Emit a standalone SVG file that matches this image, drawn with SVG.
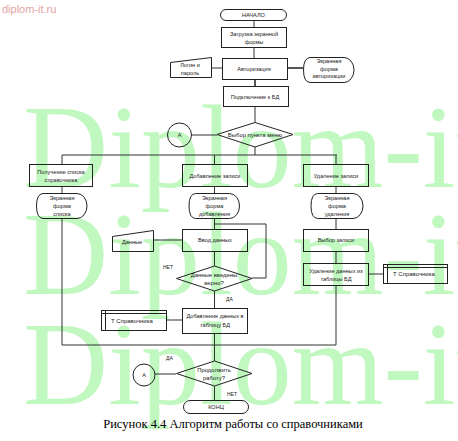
<svg xmlns="http://www.w3.org/2000/svg" width="458" height="441" viewBox="0 0 458 441">
<style>
.wm{font-family:"Liberation Serif",serif;font-size:118px;fill:#c0f8c0}
.site{font-family:"Liberation Sans",Arial,sans-serif;font-size:11px;fill:#e3a3a3}
.s{fill:none;stroke:#222;stroke-width:1}
.c{fill:none;stroke:#333;stroke-width:1}
.ct{fill:none;stroke:#555;stroke-width:2}
.t{font-family:"Liberation Sans",Arial,sans-serif;font-size:5.6px;fill:#222;text-anchor:middle}
.d{font-family:"Liberation Sans",Arial,sans-serif;font-size:5.9px;fill:#222;text-anchor:middle}
.l{font-family:"Liberation Sans",Arial,sans-serif;font-size:5px;fill:#222}
.cap{font-family:"Liberation Serif","Times New Roman",serif;font-size:12.5px;fill:#000;text-anchor:middle}
</style>
<rect width="458" height="441" fill="#fff"/>
<g id="watermark">
<text class="wm" x="23" y="187">Diplom-it</text>
<text class="wm" x="23" y="294">Diplom-it</text>
<text class="wm" x="23" y="404">Diplom-it</text>
</g>
<text class="site" x="2" y="13">diplom-it.ru</text>
<g id="connectors">
<path class="c" d="M254 20V27M254 47V58M211 68H222M255 106V122M191 135H217M255 147V155M62 155H337M62 155V164M214.5 155V164M336 155V164M62 186V193M214.5 186V193M336 186V193M62 218V345H336M214.5 218V229M214.5 224H266V278H252M153 240H182M214.5 251V266M214.5 291V308M166 320H182M214.5 333V361M336 218V229M336 251V263M336 285V345M368 274H383M155 374H176M214.5 386V400"/>
<path class="ct" d="M287 68H303M255 79V86"/>
</g>
<g id="start"><rect class="s" x="220.5" y="9.5" width="66" height="11" rx="5.5"/><text class="t" x="253.5" y="17">НАЧАЛО</text></g>
<g id="load"><rect class="s" x="221.5" y="27.5" width="65" height="20"/><text class="t" x="254" y="36">Загрузка экранной</text><text class="t" x="254" y="44">формы</text></g>
<g id="login"><path class="s" d="M170.5 62.5L211.5 57.5V77.5H170.5Z"/><text class="t" x="190" y="67">Логин и</text><text class="t" x="190" y="75">пароль</text></g>
<g id="auth"><rect class="s" x="222.5" y="58.5" width="65" height="21"/><text class="t" x="254" y="71">Авторизация</text></g>
<g id="authform"><path class="s" d="M310 57.5H344A10 12.5 0 0 1 344 82.5H310Q303.5 82 303.5 70Q303.5 58 310 57.5Z"/><text class="t" x="329" y="63">Экранная</text><text class="t" x="329" y="70.5">форма</text><text class="t" x="329" y="78">авторизации</text></g>
<g id="connect"><rect class="s" x="223.5" y="86.5" width="65" height="20"/><text class="t" x="255" y="98.5">Подключение к БД</text></g>
<g id="menu"><path class="s" d="M255 122.5L293 134.5L255 147L217 134.5Z"/><text class="d" x="255" y="137">Выбор пункта меню</text></g>
<g id="a1"><circle class="s" cx="179.5" cy="135" r="12"/><text class="t" x="179.5" y="137">А</text></g>
<g id="getlist"><rect class="s" x="29.5" y="164.5" width="63" height="22"/><text class="t" x="61" y="174">Получение списка</text><text class="t" x="61" y="182">справочника</text></g>
<g id="add"><rect class="s" x="182.5" y="164.5" width="65" height="22"/><text class="t" x="215" y="177.5">Добавление записи</text></g>
<g id="del"><rect class="s" x="303.5" y="164.5" width="65" height="22"/><text class="t" x="336" y="177.5">Удаление записи</text></g>
<g id="listform"><path class="s" d="M43 193.5H77A10 12.5 0 0 1 77 218.5H43Q36.5 218 36.5 206Q36.5 194 43 193.5Z"/><text class="t" x="62" y="200">Экранная</text><text class="t" x="62" y="208">форма</text><text class="t" x="62" y="216">списка</text></g>
<g id="addform"><path class="s" d="M195.5 193.5H229.5A10 12.5 0 0 1 229.5 218.5H195.5Q189 218 189 206Q189 194 195.5 193.5Z"/><text class="t" x="214.5" y="200">Экранная</text><text class="t" x="214.5" y="208">форма</text><text class="t" x="214.5" y="216">добавления</text></g>
<g id="delform"><path class="s" d="M317.5 193.5H353A10 12.5 0 0 1 353 218.5H317.5Q311 218 311 206Q311 194 317.5 193.5Z"/><text class="t" x="337" y="200">Экранная</text><text class="t" x="337" y="208">форма</text><text class="t" x="337" y="216">удаления</text></g>
<g id="data"><path class="s" d="M112.5 236.5L153.5 230.5V251.5H112.5Z"/><text class="t" x="132" y="244">Данные</text></g>
<g id="input"><rect class="s" x="182.5" y="229.5" width="65" height="22"/><text class="t" x="215" y="242">Ввод данных</text></g>
<g id="check"><path class="s" d="M214.5 266L252 278.5L214.5 291L176.5 278.5Z"/><text class="d" x="214" y="277">Данные введены</text><text class="d" x="214" y="285">верно?</text></g>
<text class="l" x="163" y="269">НЕТ</text>
<text class="l" x="226" y="301">ДА</text>
<g id="select"><rect class="s" x="303.5" y="229.5" width="65" height="22"/><text class="t" x="336" y="242">Выбор записи</text></g>
<g id="remove"><rect class="s" x="303.5" y="263.5" width="65" height="22"/><text class="t" x="336" y="273">Удаление данных из</text><text class="t" x="336" y="281">таблицы БД</text></g>
<g id="ref1"><rect class="s" x="383.5" y="264.5" width="64" height="19"/><path class="s" d="M383.5 267.5H447.5M387.5 264.5V283.5"/><text class="l" x="393" y="276" style="font-size:6px">Т Справочника</text></g>
<g id="insert"><rect class="s" x="182.5" y="308.5" width="65" height="25"/><text class="t" x="215" y="318">Добавление данных в</text><text class="t" x="215" y="327">таблицу БД</text></g>
<g id="ref2"><rect class="s" x="101.5" y="310.5" width="65" height="20"/><path class="s" d="M101.5 313.5H166.5M105.5 310.5V330.5"/><text class="l" x="111" y="322.5" style="font-size:6px">Т Справочника</text></g>
<g id="continue"><path class="s" d="M214.5 361L252 373.5L214.5 386L176.5 373.5Z"/><text class="d" x="214" y="372">Продолжить</text><text class="d" x="214" y="380">работу?</text></g>
<g id="a2"><circle class="s" cx="144" cy="375" r="11"/><text class="t" x="144" y="377">А</text></g>
<text class="l" x="166" y="360">ДА</text>
<text class="l" x="227" y="396">НЕТ</text>
<g id="end"><rect class="s" x="183.5" y="400.5" width="65" height="13" rx="6.5"/><text class="t" x="216" y="409">КОНЦ</text></g>
<text class="cap" x="233" y="428">Рисунок 4.4 Алгоритм работы со справочниками</text>
</svg>
